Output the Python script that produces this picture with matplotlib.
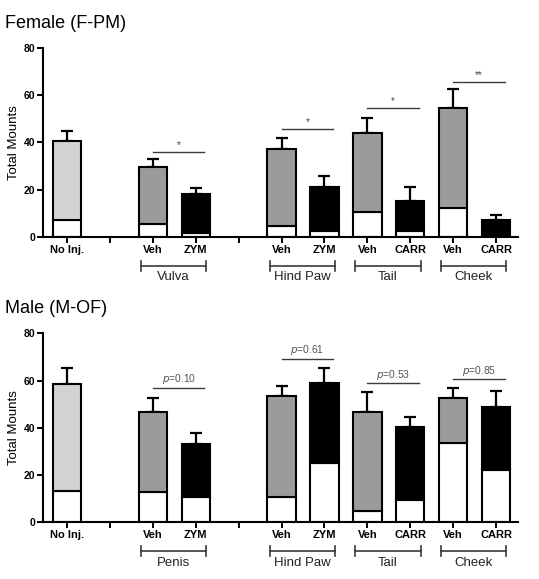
import numpy as np
import matplotlib.pyplot as plt

plt.rcParams['font.family'] = ['Liberation Sans', 'DejaVu Sans']

# -----------------------------
# Data
# -----------------------------
positions = [0, 2, 3, 5, 6, 7, 8, 9, 10]
bar_labels = ["No Inj.", "Veh", "ZYM", "Veh", "ZYM", "Veh", "CARR", "Veh", "CARR"]
bar_kind = ["none", "veh", "trt", "veh", "trt", "veh", "trt", "veh", "trt"]

groups = ["Vulva", "Hind Paw", "Tail", "Cheek"]
male_groups = ["Penis", "Hind Paw", "Tail", "Cheek"]
group_pairs = [(2, 3), (5, 6), (7, 8), (9, 10)]

female_total = [40.8, 29.8, 18.0, 37.1, 21.3, 43.9, 15.1, 54.5, 7.2]
female_sem = [4.1, 3.1, 2.9, 4.8, 4.6, 6.3, 6.2, 8.1, 2.1]
female_lower = [7.2, 5.5, 1.5, 4.7, 2.7, 10.4, 2.7, 12.4, 0.4]
female_sig = ["*", "*", "*", "**"]
female_sig_y = [36.1, 45.6, 54.5, 65.8]

male_total = [58.4, 46.7, 33.1, 53.6, 58.8, 46.8, 40.2, 52.7, 48.9]
male_sem = [6.8, 6.0, 4.8, 4.2, 6.7, 8.3, 4.5, 4.3, 6.7]
male_lower = [13.2, 12.7, 10.6, 10.8, 25.2, 4.9, 9.4, 33.4, 22.0]
male_pvals = ["0.10", "0.61", "0.53", "0.85"]
male_sig_y = [56.7, 69.1, 58.8, 60.5]

fill_colors = {"none": "#d3d3d3", "veh": "#9b9b9b", "trt": "#000000"}
line_gray = "#3a3a3a"


def draw_panel(ax, title, total, sem, lower, grp_names, sig_texts, sig_y, italic_p):
    cols = [fill_colors[k] for k in bar_kind]
    upper = np.array(total) - np.array(lower)
    ax.bar(positions, lower, width=0.66, color="white", edgecolor="black",
           linewidth=1.5, zorder=2)
    ax.bar(positions, upper, bottom=lower, width=0.66, color=cols,
           edgecolor="black", linewidth=1.5, zorder=2)
    ax.errorbar(positions, total, yerr=[np.zeros(len(sem)), sem], fmt="none",
                ecolor="black", elinewidth=1.6, capsize=4.5, capthick=1.6, zorder=1)

    ax.set_xlim(-0.56, 10.51)
    ax.set_ylim(0, 80)
    ax.set_yticks([0, 20, 40, 60, 80])
    ax.set_xticks(range(0, 11))
    ax.set_xticklabels(["" if i not in positions else bar_labels[positions.index(i)]
                        for i in range(11)])
    for lab in ax.get_xticklabels():
        lab.set_fontweight("bold")
        lab.set_fontsize(8)
    for lab in ax.get_yticklabels():
        lab.set_fontweight("bold")
        lab.set_fontsize(7.5)
    ax.tick_params(axis="both", width=1.4, length=4, pad=1.5)
    ax.spines["top"].set_visible(False)
    ax.spines["right"].set_visible(False)
    ax.spines["left"].set_linewidth(1.5)
    ax.spines["bottom"].set_linewidth(1.5)
    ax.set_ylabel("Total Mounts", fontsize=9.5, labelpad=3)
    ax.text(-0.08, 1.106, title, transform=ax.transAxes, fontsize=13,
            ha="left", va="baseline")

    # group brackets under the axis
    for (a, b), name in zip(group_pairs, grp_names):
        x0, x1 = a - 0.28, b + 0.24
        yb = -12.2
        ax.plot([x0, x1], [yb, yb], color=line_gray, lw=1.2, clip_on=False)
        ax.plot([x0, x0], [yb - 2.2, yb + 2.2], color=line_gray, lw=1.2, clip_on=False)
        ax.plot([x1, x1], [yb - 2.2, yb + 2.2], color=line_gray, lw=1.2, clip_on=False)
        ax.text((x0 + x1) / 2, yb - 2.4, name, ha="center", va="top",
                fontsize=9.5, color="#222222")

    # comparison lines
    for (a, b), txt, y in zip(group_pairs, sig_texts, sig_y):
        ax.plot([a, b + 0.2], [y, y], color=line_gray, lw=1.0, clip_on=False)
        xm = (a + b + 0.2) / 2
        if italic_p:
            ax.text(xm, y + 0.8, r"$\it{p}$=" + txt, ha="center", va="bottom",
                    fontsize=7.4, color="#555555")
        else:
            ax.text(xm, y + 0.8, txt, ha="center", va="bottom",
                    fontsize=7, color="#444444")


fig = plt.figure(figsize=(5.39, 5.79), dpi=100)
ax1 = fig.add_axes([0.0798, 0.5907, 0.8812, 0.3264])
ax2 = fig.add_axes([0.0798, 0.0979, 0.8812, 0.3264])

draw_panel(ax1, "Female (F-PM)", female_total, female_sem, female_lower,
           groups, female_sig, female_sig_y, False)
draw_panel(ax2, "Male (M-OF)", male_total, male_sem, male_lower,
           male_groups, male_pvals, male_sig_y, True)

plt.savefig("out.png", dpi=100)
